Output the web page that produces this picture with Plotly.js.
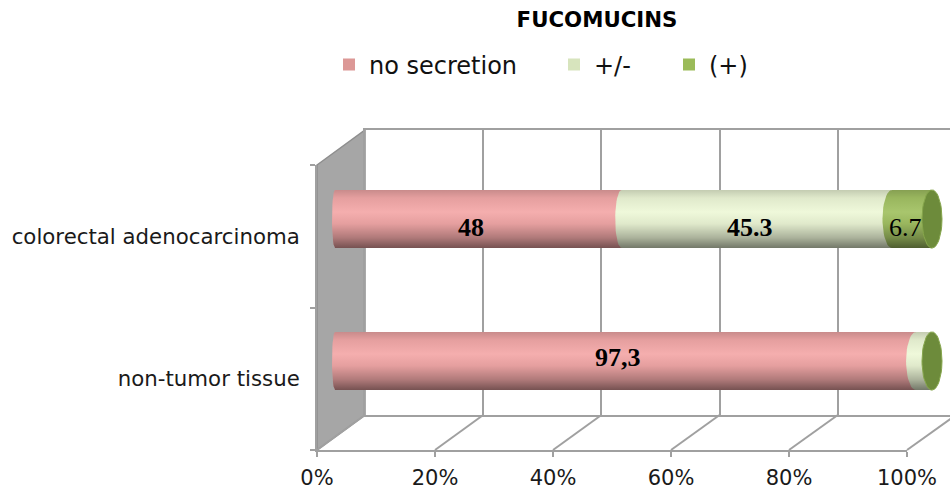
<!DOCTYPE html>
<html><head><meta charset="utf-8">
<script src="https://cdn.plot.ly/plotly-3.0.1.min.js"></script>
<style>html,body{margin:0;padding:0;background:#fff}#chart{width:950px;height:490px}</style>
</head><body><div id="chart"></div>
<script>
// ---------------- data ----------------
const categories = ['non-tumor tissue', 'colorectal adenocarcinoma'];
const seriesNames = ['no secretion', '+/-', '(+)'];
const noSecretion = [97.3, 48];
const plusMinus = [2.7, 45.3];
const plusSign = [0, 6.7];
const noSecretionLabels = ['97,3', '48'];
const plusMinusLabels = ['', '45.3'];
const plusSignLabels = ['', '6.7'];
const tickValues = [0, 20, 40, 60, 80, 100];
const chartTitle = 'FUCOMUCINS';

// ---------------- style ----------------
const W = 950, H = 490;
const px = v => v / W, py = v => 1 - v / H;
const BAR = {x0: 335, x100: 932, left: 320, right: 950, yTop: 148, yBot: 432};
const FRONT = {x0: 317, x100: 907, yTop: 165, yBot: 450};
const BACK = {x0: 365, x100: 956, yTop: 130, yBot: 415};
const barWidth = 0.41;
const legendColors = ['#DC9896', '#D7E4BD', '#9BBB59'];
const bodyColors = ['#F4A9A9', '#EEF8D8', '#A3C264'];
const capColor = '#6D8B3B';
const gridColor = '#A0A0A0';
const labelBold = [true, true, false];
const labelYShift = [4, -8];
const legendMarkerX = [349, 574, 689];
const FONT = 'DejaVu Sans';

const values = [noSecretion, plusMinus, plusSign];
const labels = [noSecretionLabels, plusMinusLabels, plusSignLabels];
const pxPerUnit = (BAR.x100 - BAR.x0) / 100;
const aData = v => (3 + 7 * v / 100) / pxPerUnit;   // ellipse half-width (data units)
const bHalf = barWidth / 2;

function ellipse(cx, cy, a, b, t0, t1, n) {
  const xs = [], ys = [];
  for (let k = 0; k <= n; k++) {
    const t = t0 + (t1 - t0) * k / n;
    xs.push(cx + a * Math.cos(t));
    ys.push(cy + b * Math.sin(t));
  }
  return [xs, ys];
}

const traces = [];
// dummy traces for back wall and front floor subplots
traces.push({type: 'scatter', x: [], y: [], xaxis: 'x', yaxis: 'y', showlegend: false, hoverinfo: 'skip'});
traces.push({type: 'scatter', x: [], y: [], xaxis: 'x2', yaxis: 'y2', showlegend: false, hoverinfo: 'skip'});

// bodies
values.forEach((vals, s) => {
  traces.push({
    type: 'bar', orientation: 'h', x: vals, y: categories.map((c, i) => i),
    width: barWidth, xaxis: 'x3', yaxis: 'y3',
    marker: {color: bodyColors[s], line: {width: 0}},
    showlegend: false, hoverinfo: 'skip'
  });
});

// segment start ellipses
const totals = categories.map((c, i) => values.reduce((acc, v) => acc + v[i], 0));
categories.forEach((c, i) => {
  let cum = 0;
  values.forEach((vals, s) => {
    if (vals[i] > 0) {
      const [ex, ey] = ellipse(cum, i, aData(cum), bHalf, 0, 2 * Math.PI, 48);
      traces.push({type: 'scatter', mode: 'lines', x: ex, y: ey, fill: 'toself',
        fillcolor: bodyColors[s], line: {width: 0}, xaxis: 'x3', yaxis: 'y3',
        showlegend: false, hoverinfo: 'skip'});
    }
    cum += vals[i];
  });
});

// shading overlay
categories.forEach((c, i) => {
  const [lx, ly] = ellipse(0, i, aData(0), bHalf, Math.PI / 2, 3 * Math.PI / 2, 24);
  const xs = lx.concat([totals[i], totals[i], lx[0]]);
  const ys = ly.concat([i - bHalf, i + bHalf, ly[0]]);
  traces.push({type: 'scatter', mode: 'lines', x: xs, y: ys, fill: 'toself',
    line: {width: 0}, xaxis: 'x3', yaxis: 'y3', showlegend: false, hoverinfo: 'skip',
    fillgradient: {type: 'vertical', colorscale: [
      [0, 'rgba(0,0,0,0.52)'], [0.18, 'rgba(0,0,0,0.28)'], [0.42, 'rgba(0,0,0,0.06)'],
      [0.62, 'rgba(255,255,255,0.06)'], [0.86, 'rgba(0,0,0,0.06)'], [1, 'rgba(0,0,0,0.18)']]}
  });
});

// end caps
categories.forEach((c, i) => {
  const [ex, ey] = ellipse(totals[i], i, aData(totals[i]), bHalf, 0, 2 * Math.PI, 48);
  traces.push({type: 'scatter', mode: 'lines', x: ex, y: ey, fill: 'toself',
    fillcolor: capColor, line: {width: 1, color: '#86A64C'}, xaxis: 'x3', yaxis: 'y3',
    showlegend: false, hoverinfo: 'skip'});
});

// legend entries
seriesNames.forEach((n, s) => {
  traces.push({type: 'scatter', mode: 'markers', x: [null], y: [null], name: n,
    xaxis: 'x3', yaxis: 'y3', legend: s === 0 ? 'legend' : 'legend' + (s + 1),
    marker: {symbol: 'square', size: 12, color: legendColors[s]}, hoverinfo: 'skip'});
});

// data labels
const annotations = [];
categories.forEach((c, i) => {
  let cum = 0;
  values.forEach((vals, s) => {
    const t = labels[s][i];
    if (t) {
      annotations.push({xref: 'x3', yref: 'y3', x: cum + vals[i] / 2, y: i,
        text: labelBold[s] ? '<b>' + t + '</b>' : t, showarrow: false,
        xshift: -7, yshift: labelYShift[i],
        font: {family: 'Liberation Serif', size: 26, color: '#000'}});
    }
    cum += vals[i];
  });
});

// decorative 3D box shapes
const fx = v => FRONT.x0 + (FRONT.x100 - FRONT.x0) * v / 100;
const bx = v => BACK.x0 + (BACK.x100 - BACK.x0) * v / 100;
const shapes = [{
  type: 'path', xref: 'paper', yref: 'paper', layer: 'below',
  path: `M ${px(FRONT.x0)},${py(FRONT.yTop)} L ${px(BACK.x0)},${py(BACK.yTop)} L ${px(BACK.x0)},${py(BACK.yBot)} L ${px(FRONT.x0)},${py(FRONT.yBot)} Z`,
  fillcolor: '#A6A6A6', line: {color: '#8E8E8E', width: 1.5}
}];
tickValues.forEach(v => {
  shapes.push({type: 'line', xref: 'paper', yref: 'paper', layer: 'below',
    x0: px(fx(v)), y0: py(FRONT.yBot), x1: px(bx(v)), y1: py(BACK.yBot),
    line: {color: gridColor, width: 2}});
});

const tickFont = {family: FONT, size: 21, color: '#1a1a1a'};
const legendFont = {family: FONT, size: 24, color: '#111'};
const layout = {
  width: W, height: H, autosize: false,
  margin: {l: 0, r: 0, t: 0, b: 0, pad: 0},
  paper_bgcolor: '#fff', plot_bgcolor: 'rgba(0,0,0,0)',
  barmode: 'stack', bargap: 0,
  title: {text: '<b>' + chartTitle + '</b>', x: 597 / W, xanchor: 'center', y: py(20), yanchor: 'middle',
    font: {family: FONT, size: 21.3, color: '#000'}},
  // back wall
  xaxis: {domain: [px(BACK.x0), 1], range: [0, (W - BACK.x0) / ((BACK.x100 - BACK.x0) / 100)],
    anchor: 'y', tickvals: tickValues, showticklabels: false, ticks: '',
    showgrid: true, gridcolor: gridColor, gridwidth: 2, zeroline: false,
    showline: true, mirror: true, linecolor: gridColor, linewidth: 2, fixedrange: true},
  yaxis: {domain: [py(BACK.yBot), py(BACK.yTop)], range: [0, 1], anchor: 'x',
    showgrid: false, zeroline: false, showticklabels: false, ticks: '',
    showline: true, linecolor: gridColor, linewidth: 2, fixedrange: true},
  // front floor
  xaxis2: {domain: [px(FRONT.x0), px(FRONT.x100)], range: [0, 100], anchor: 'y2',
    tickvals: tickValues, ticktext: tickValues.map(v => v + '%'), ticks: 'outside', ticklen: 5,
    tickwidth: 2, tickcolor: gridColor, showgrid: false, zeroline: false, showline: true,
    linecolor: gridColor, linewidth: 2, tickfont: tickFont, ticklabelstandoff: 3, fixedrange: true},
  yaxis2: {domain: [py(FRONT.yBot), py(FRONT.yTop)], range: [-0.5, categories.length - 0.5], anchor: 'x2',
    tickvals: categories.map((c, i) => i), ticktext: categories, ticks: '',
    minor: {tickvals: categories.map((c, i) => i - 0.5).concat([categories.length - 0.5]),
      ticks: 'outside', ticklen: 5, tickwidth: 2, tickcolor: gridColor, showgrid: false},
    showgrid: false, zeroline: false, showline: true, linecolor: gridColor, linewidth: 2,
    tickfont: {family: FONT, size: 21.3, color: '#1a1a1a'}, ticklabelstandoff: 11, fixedrange: true},
  // bars
  xaxis3: {domain: [px(BAR.left), px(BAR.right)],
    range: [-(BAR.x0 - BAR.left) / pxPerUnit, 100 + (BAR.right - BAR.x100) / pxPerUnit],
    anchor: 'y3', visible: false, fixedrange: true},
  yaxis3: {domain: [py(BAR.yBot), py(BAR.yTop)], range: [-0.5, categories.length - 0.5],
    anchor: 'x3', visible: false, fixedrange: true},
  shapes: shapes,
  annotations: annotations,
  legend: {orientation: 'h', x: px(legendMarkerX[0] - 20), xanchor: 'left', y: py(65), yanchor: 'middle',
    font: legendFont, bgcolor: 'rgba(0,0,0,0)'},
  legend2: {orientation: 'h', x: px(legendMarkerX[1] - 20), xanchor: 'left', y: py(65), yanchor: 'middle',
    font: legendFont, bgcolor: 'rgba(0,0,0,0)'},
  legend3: {orientation: 'h', x: px(legendMarkerX[2] - 20), xanchor: 'left', y: py(65), yanchor: 'middle',
    font: legendFont, bgcolor: 'rgba(0,0,0,0)'},
  showlegend: true
};

Plotly.newPlot('chart', traces, layout, {staticPlot: true, displayModeBar: false});
</script>
</body></html>
